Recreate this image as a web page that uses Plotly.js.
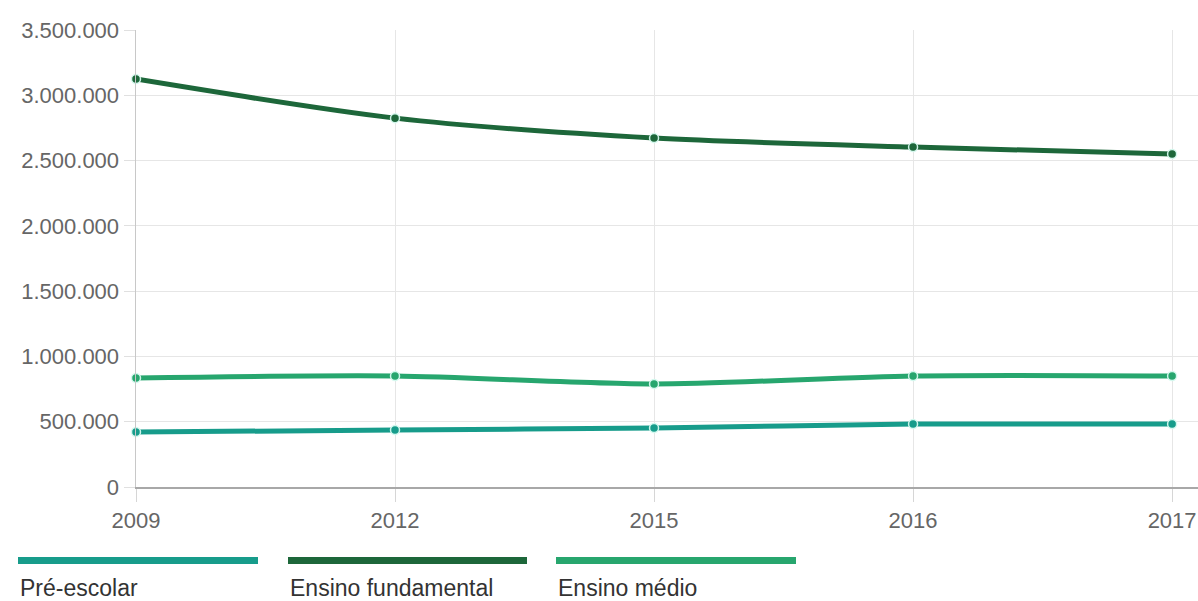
<!DOCTYPE html>
<html>
<head>
<meta charset="utf-8">
<script src="https://cdn.plot.ly/plotly-3.0.1.min.js"></script>
<style>html,body{margin:0;padding:0;background:#fff;}#chart{width:1198px;height:601px;}</style>
</head>
<body>
<div id="chart"></div>
<script>
const years = ["2009", "2012", "2015", "2016", "2017"];
const seriesNames = ["Pré-escolar", "Ensino fundamental", "Ensino médio"];
const seriesColors = ["#179c8b", "#1d673a", "#27a66e"];
const preEscolar = [421000, 436000, 452000, 482000, 482000];
const fundamental = [3124000, 2825000, 2672000, 2603000, 2550000];
const medio = [835000, 850000, 789000, 850000, 850000];
const seriesValues = [preEscolar, fundamental, medio];
const yTickVals = [0, 500000, 1000000, 1500000, 2000000, 2500000, 3000000, 3500000];

const W = 1198, H = 601, M = {l: 136, r: 0, t: 30, b: 114};
const pw = W - M.l - M.r, ph = H - M.t - M.b;
const px = x => (x - M.l) / pw;
const py = y => (H - M.b - y) / ph;

const traces = seriesNames.map((name, i) => ({
  type: 'scatter', mode: 'lines+markers', name: name,
  x: years, y: seriesValues[i],
  line: {color: seriesColors[i], width: 5, shape: 'spline', smoothing: 0.8},
  marker: {color: seriesColors[i], size: 9, line: {color: 'rgba(215,250,240,0.95)', width: 1.5}},
  cliponaxis: false
}));

const swatchX = [[18, 258], [288, 527], [556, 796]];
const shapes = seriesNames.map((n, i) => ({
  type: 'rect', xref: 'paper', yref: 'paper',
  x0: px(swatchX[i][0]), x1: px(swatchX[i][1]),
  y0: py(564), y1: py(557),
  fillcolor: seriesColors[i], line: {width: 0}
}));
const annotations = seriesNames.map((n, i) => ({
  xref: 'paper', yref: 'paper', x: px(swatchX[i][0]), y: py(588),
  xanchor: 'left', yanchor: 'middle', showarrow: false, text: n,
  font: {family: 'Liberation Sans, Arial, sans-serif', size: 23, color: '#333'}
}));

const layout = {
  width: W, height: H, margin: M,
  paper_bgcolor: '#fff', plot_bgcolor: '#fff',
  separators: ',.',
  showlegend: false, hovermode: false,
  font: {family: 'Liberation Sans, Arial, sans-serif', color: '#666'},
  xaxis: {
    type: 'category', range: [0, 4.1],
    showgrid: true, gridcolor: '#e6e6e6', gridwidth: 1,
    showline: true, linecolor: '#a8a8a8', linewidth: 1.5,
    ticks: 'outside', ticklen: 13, tickcolor: '#d6d6d6',
    tickfont: {size: 22, color: '#666'}, zeroline: false
  },
  yaxis: {
    range: [0, 3500000], tickvals: yTickVals, tickformat: ',.0f',
    showgrid: true, gridcolor: '#e6e6e6', gridwidth: 1,
    showline: true, linecolor: '#c8c8c8', linewidth: 1.5,
    ticks: 'outside', ticklen: 11, tickcolor: '#e0e0e0',
    tickfont: {size: 22, color: '#666'}, zeroline: false
  },
  shapes: shapes, annotations: annotations
};

Plotly.newPlot('chart', traces, layout, {displayModeBar: false, staticPlot: true});
</script>
</body>
</html>
